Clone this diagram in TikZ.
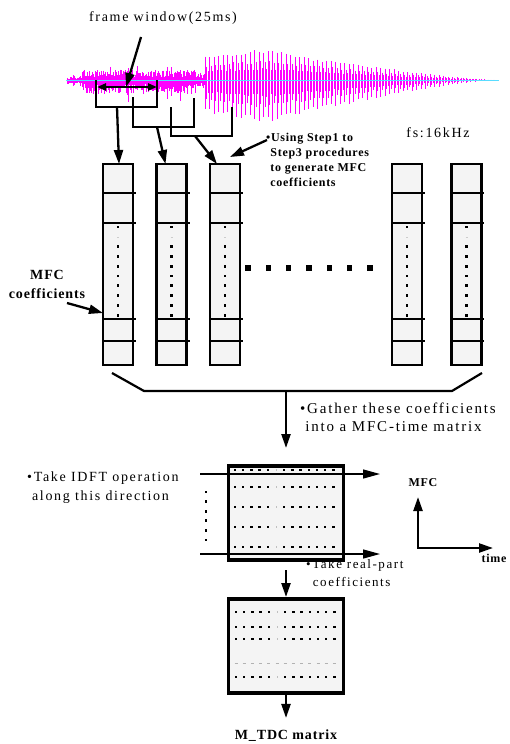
\documentclass[tikz,border=0pt]{standalone}
\usepackage{fontspec}
\setmainfont{Liberation Serif}
\newfontfamily\rsp[LetterSpace=12]{Liberation Serif}
\newfontfamily\bsp[LetterSpace=6]{Liberation Serif}
\usetikzlibrary{arrows.meta,calc}
\definecolor{wavemag}{RGB}{255,0,255}
\definecolor{wavecyan}{RGB}{90,220,255}
\definecolor{boxfill}{RGB}{244,244,244}
\tikzset{
  wave/.style={wavemag,line width=0.7pt},
  arr/.style={-{Triangle[length=14pt,width=9pt]},line width=2.3pt},
  tharr/.style={-{Triangle[length=17pt,width=9pt]},line width=1.3pt},
  dblarr/.style={{Triangle[length=9pt,width=7pt]}-{Triangle[length=9pt,width=7pt]},line width=2.2pt},
  brk/.style={line width=2.2pt},
  colbox/.style={draw,line width=2.8pt,fill=boxfill,minimum width=30pt,minimum height=201pt,inner sep=0pt,outer sep=0pt},
  matbox/.style={draw,line width=3.2pt,fill=boxfill,minimum width=115pt,minimum height=94pt,inner sep=0pt,outer sep=0pt},
  div/.style={line width=2.2pt},
  rtx/.style={inner sep=0pt,font=\rsp\fontsize{14}{19}\selectfont},
  btx/.style={inner sep=0pt,font=\bsp\bfseries\fontsize{12}{15}\selectfont},
}
\begin{document}
\begin{tikzpicture}[x=1pt,y=-1pt]
\useasboundingbox (0,0) rectangle (509,744);
\fill[white] (0,0) rectangle (509,744);
% ---------- waveform ----------
\pgfmathsetseed{3}
\foreach \i in {0,...,172}{
  \pgfmathsetmacro\xx{67+0.8*\i}
  \pgfmathsetmacro\en{\xx<82 ? 2.5 : (\xx>196 ? 5 : 9)}
  \pgfmathsetmacro\sp{rnd>0.92 ? 1.6 : 1}
  \pgfmathsetmacro\up{\en*\sp*(0.35+0.8*rnd)}
  \pgfmathsetmacro\dn{1.35*\en*\sp*(0.35+0.8*rnd)}
  \draw[wave] (\xx,80-\up) -- (\xx,80+\dn);
}
\foreach \i in {0,...,193}{
  \pgfmathsetmacro\xx{205+1.5*\i}
  \pgfmathsetmacro\A{\xx<265 ? 24+7*(\xx-205)/60 : 31*(max(0.01,1-(\xx-265)/230))^1.3}
  \pgfmathsetmacro\ph{mod(\i,3)}
  \pgfmathsetmacro\f{\ph==0 ? 1 : (\ph==1 ? 0.65 : 0.4)}
  \pgfmathsetmacro\up{\A*\f*(0.85+0.15*rnd)}
  \pgfmathsetmacro\dn{1.38*\A*\f*(0.85+0.15*rnd)}
  \draw[wave] (\xx,80-\up) -- (\xx,80+\dn);
}
\draw[wavecyan,line width=1pt] (66,80) -- (499,80);
% ---------- frame window ----------
\node[rtx] (fw) at (163,18) {frame window(25ms)};
\coordinate (fwa) at (141,37);
\coordinate (dl) at (97,87);
\coordinate (dr) at (157,87);
\coordinate (dm) at (126,87);
\draw[dblarr] (dl) -- (dr);
\draw[arr] (fwa) -- (dm);
% brackets
\draw[brk] (96,80) -- (96,107) -- (157,107) -- (157,80);
\draw[brk] (133,97) -- (133,127) -- (194,127) -- (194,98);
\draw[brk] (171,107) -- (171,136) -- (232,136) -- (232,107);
\coordinate (b1) at (117,107);
\coordinate (b2) at (157,127);
\coordinate (b3) at (195,136);
% ---------- columns ----------
\node[colbox] (c1) at (118,264.5) {};
\node[colbox] (c2) at (171.5,264.5) {};
\node[colbox] (c3) at (225,264.5) {};
\node[colbox] (c4) at (407,264.5) {};
\node[colbox] (c5) at (466.5,264.5) {};
\foreach \xl/\xr in {103/133,156.5/186.5,210/240,392/422,452.5/480.5}{
  \foreach \yy in {193,223,319,341}{
    \draw[div] (\xl,\yy) -- (\xr+3,\yy);
  }
  \pgfmathsetmacro\xc{(\xl+\xr)/2}
  \foreach \k in {0,2,3,4,5,6,7,8,9}{
    \fill (\xc-1.4,227+9.8*\k-1.4) rectangle +(2.8,2.8);
  }
  \draw[gray!40,line width=0.6pt] (\xc-1,236.8) -- (\xc+1,236.8);
}
\foreach \xx in {248,268.3,288.6,309,329.3,349.6,370}{
  \fill (\xx-2.7,265.3) rectangle +(5.4,5.4);
}
\draw[arr] (b1) -- ($(c1.north)+(1,0)$);
\draw[arr] (b2) -- ($(c2.north)+(-6,0)$);
\draw[arr] (b3) -- ($(c3.north)+(-8,0)$);
% Using step text
\node[btx,align=left,anchor=west] (step) at (266,160) {\textbullet Using Step1 to\\\phantom{\textbullet}Step3 procedures\\\phantom{\textbullet}to generate MFC\\\phantom{\textbullet}coefficients};
\coordinate (sa) at (267,140);
\draw[arr] (sa) -- ($(c3.north)+(5,-7)$);
\node[rtx] (fs) at (438,133) {fs:16kHz};
% MFC coefficients label
\node[btx,align=center,font=\bsp\bfseries\fontsize{14}{19}\selectfont] (mfcc) at (47,284.5) {MFC\\coefficients};
\coordinate (ma) at (67,303);
\draw[arr] (ma) -- ($(c1.south west)+(0,-52)$);
% brace
\draw[brk] (112,373) -- (144,391) -- (452,391) -- (482,373);
\coordinate (bc) at (286,391);
% ---------- matrix 1 ----------
\node[matbox] (m1) at (286,513) {};
\draw[arr,shorten >=18pt] (bc) -- (m1.north);
\node[rtx,align=left,anchor=west,font=\rsp\fontsize{15}{18}\selectfont] (gat) at (300,417) {\textbullet Gather these coefficients\\\phantom{\textbullet}into a MFC-time matrix};
\foreach \yy in {470,487,507,527,547}{
  \foreach \k in {0,...,12}{
    \ifnum\k=5
      \draw[gray!50,line width=0.5pt] (235+8.2*\k,\yy-1) -- (235+8.2*\k,\yy+1);
    \else
      \fill (235+8.2*\k-1.2,\yy-1.2) rectangle +(2.4,2.4);
    \fi
  }
}
\foreach \yy in {492,501.6,511.2,520.8,530.4,540}{
  \fill (206-1.4,\yy-1.4) rectangle +(2.8,2.8);
}
\coordinate (i1s) at (200,474);
\coordinate (i1e) at (380,474);
\coordinate (i2s) at (200,554);
\coordinate (i2e) at (380,554);
\draw[tharr] (i1s) -- (i1e);
\draw[tharr] (i2s) -- (i2e);
\node[rtx,align=left,anchor=west] (idft) at (27,487.5) {\textbullet Take IDFT operation\\\phantom{\textbullet}along this direction};
% axes
\coordinate (ax0) at (418,548);
\coordinate (axu) at (418,497);
\coordinate (axr) at (493,548);
\draw[arr,line cap=rect] (ax0) -- (axu);
\draw[arr] (ax0) -- (axr);
\node[btx] (lmfc) at (423,483) {MFC};
\node[btx] (ltime) at (494,558) {time};
% real part text
\node[rtx,align=left,anchor=west,font=\rsp\fontsize{13}{18}\selectfont] (real) at (306,573) {\textbullet Take real-part\\\phantom{\textbullet\,}coefficients};
% ---------- matrix 2 ----------
\node[matbox] (m2) at (286,646) {};
\draw[arr,shorten <=10pt,shorten >=2pt] (m1.south) -- (m2.north);
\foreach \yy/\op in {612/1,627/1,639/1,663/0,677/1}{
  \foreach \k in {0,...,12}{
    \ifnum\op=0
      \draw[gray!60,line width=0.5pt] (236+8.2*\k-1.5,\yy) -- (236+8.2*\k+1.5,\yy);
    \else
      \ifnum\k=5
        \draw[gray!50,line width=0.5pt] (236+8.2*\k,\yy-1) -- (236+8.2*\k,\yy+1);
      \else
        \fill (236+8.2*\k-1.2,\yy-1.2) rectangle +(2.4,2.4);
      \fi
    \fi
  }
}
\node[btx,font=\bsp\bfseries\fontsize{14}{16}\selectfont] (mtdc) at (286,736) {M\_TDC matrix};
\draw[arr,shorten >=12pt] (m2.south) -- (mtdc.north);
\end{tikzpicture}
\end{document}
